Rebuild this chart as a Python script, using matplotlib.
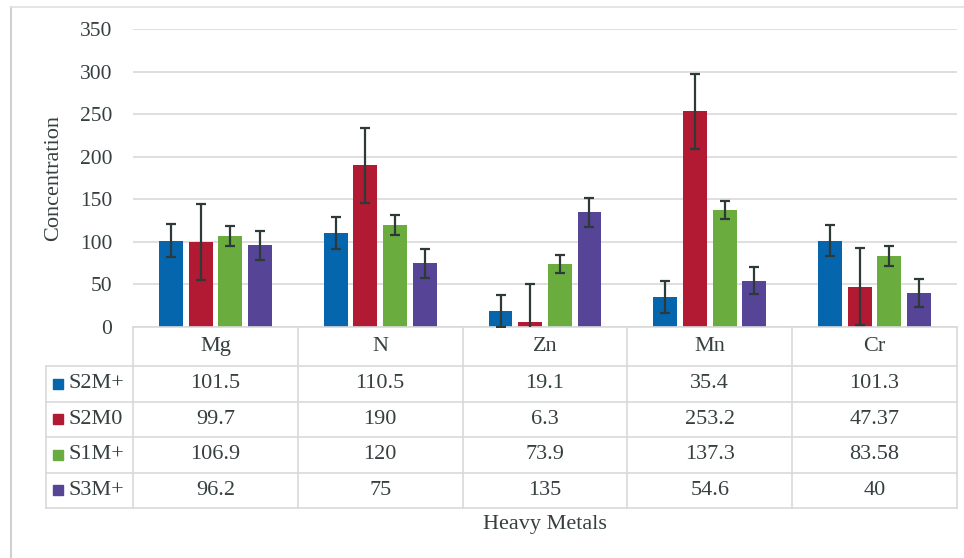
import numpy as np
from matplotlib import pyplot as plt
from matplotlib.patches import Rectangle
from matplotlib.transforms import blended_transform_factory

metals = ['Mg', 'N', 'Zn', 'Mn', 'Cr']
series = ['S2M+', 'S2M0', 'S1M+', 'S3M+']
colors = ['#0565AD', '#B11A32', '#6AAD3E', '#564596']

s2m_plus = [101.5, 110.5, 19.1, 35.4, 101.3]
s2m_zero = [99.7, 190, 6.3, 253.2, 47.37]
s1m_plus = [106.9, 120, 73.9, 137.3, 83.58]
s3m_plus = [96.2, 75, 135, 54.6, 40]
labels_text = [['101.5', '110.5', '19.1', '35.4', '101.3'],
               ['99.7', '190', '6.3', '253.2', '47.37'],
               ['106.9', '120', '73.9', '137.3', '83.58'],
               ['96.2', '75', '135', '54.6', '40']]

# error bars
err_s2m_plus = [19, 19, 19, 19, 18]
err_s2m_zero = [45, 44, 44, 44, 45]
err_s1m_plus = [12, 12, 11, 11, 12]
err_s3m_plus = [17, 17, 17, 16, 16]

values = [s2m_plus, s2m_zero, s1m_plus, s3m_plus]
errors = [err_s2m_plus, err_s2m_zero, err_s1m_plus, err_s3m_plus]

plt.rcParams['font.family'] = ['Liberation Serif', 'DejaVu Serif']
text_c = '#364040'
line_c = '#D9D9D9'
fs = 16

W, H = 964, 558
fig = plt.figure(figsize=(W / 100, H / 100), dpi=100)
ax = fig.add_axes([133 / W, 1 - 327 / H, (957 - 133) / W, (327 - 29) / H])

x = np.arange(len(metals))
width = 0.145
step = 0.18
for i, (vals, errs) in enumerate(zip(values, errors)):
    pos = x + (i - 1.5) * step
    ax.bar(pos, vals, width, color=colors[i], zorder=2)
    ax.errorbar(pos, vals, yerr=errs, fmt='none', ecolor='#2E3A3A',
                elinewidth=1.6, capsize=3.5, capthick=1.6, zorder=3)

ax.set_xlim(-0.5, len(metals) - 0.5)
ax.set_ylim(0, 350)
ax.set_yticks(range(0, 351, 50))
ax.set_xticks([])
ax.grid(axis='y', color=line_c, linewidth=1.2, zorder=0)
for s in ['top', 'right', 'left']:
    ax.spines[s].set_visible(False)
ax.spines['bottom'].set_color(line_c)
ax.spines['bottom'].set_linewidth(1.2)
ax.tick_params(axis='y', length=0, labelsize=15.5, labelcolor=text_c, pad=15)
ax.set_ylabel('Concentration', fontsize=fs, color=text_c, labelpad=12)

# data table under the axes
tr = blended_transform_factory(ax.transData, ax.transAxes)
px = 1 / 298
head_h = 39 * px
row_h = 35.5 * px
left = -0.5 - 87 / 164.8
right = len(metals) - 0.5
bottom = -(head_h + row_h * len(series))
kw = dict(transform=tr, clip_on=False, color=line_c, linewidth=1.2)

ax.plot([left, right], [-head_h, -head_h], **kw)
for r in range(1, len(series) + 1):
    y = -head_h - r * row_h
    ax.plot([left, right], [y, y], **kw)
ax.plot([left, left], [-head_h, bottom], **kw)
for b in np.arange(-0.5, len(metals), 1.0):
    ax.plot([b, b], [0, bottom], **kw)

for j, m in enumerate(metals):
    ax.text(j, -head_h / 2, m, transform=tr, ha='center', va='center',
            fontsize=fs, color=text_c)
for r, name in enumerate(series):
    yc = -head_h - (r + 0.5) * row_h
    ax.add_patch(Rectangle((left + 7 / 164.8, yc - 5 * px), 10 / 164.8, 10 * px,
                           transform=tr, clip_on=False, color=colors[r]))
    ax.text(left + 22 / 164.8, yc, name, transform=tr, ha='left', va='center',
            fontsize=fs, color=text_c)
    for j in range(len(metals)):
        ax.text(j, yc, labels_text[r][j], transform=tr, ha='center',
                va='center', fontsize=fs, color=text_c)

ax.text(2, bottom - 17 * px, 'Heavy Metals', transform=tr, ha='center',
        va='center', fontsize=fs, color=text_c)

# outer frame lines of the chart area
fig.add_artist(plt.Line2D([11 / W, 11 / W], [0, 1 - 7 / H], color='#D0D0D0',
                          linewidth=1.5, transform=fig.transFigure))
fig.add_artist(plt.Line2D([11 / W, 1], [1 - 7 / H, 1 - 7 / H], color='#E0E0E0',
                          linewidth=1.2, transform=fig.transFigure))

fig.savefig('out.png', dpi=100)
